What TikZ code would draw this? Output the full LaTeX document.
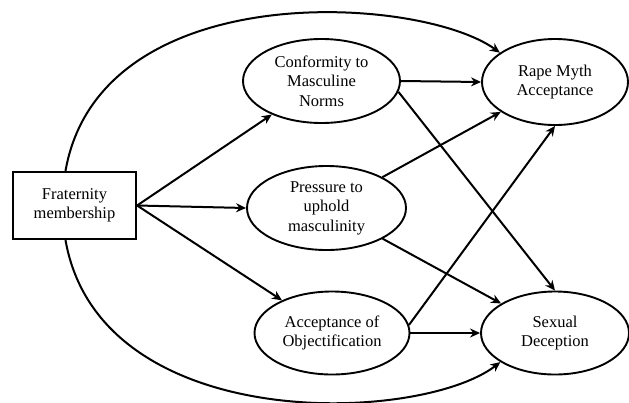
\documentclass[tikz,border=0pt]{standalone}
\usepackage{fontspec}
\setmainfont{Liberation Serif}
\usetikzlibrary{arrows.meta,shapes.geometric}
\tikzset{
	var/.style={draw, ellipse, line width=1.9pt, inner sep=0pt, align=center, font=\fontsize{16.5}{19.5}\selectfont},
	grp/.style={draw, rectangle, line width=2.2pt, inner sep=0pt, align=center, font=\fontsize{16.5}{19.5}\selectfont, minimum width=123pt, minimum height=67pt},
	path/.style={line width=2pt, -{Stealth[length=10pt,width=9pt]}}
}

\begin{document}
\begin{tikzpicture}[x=1pt, y=-1pt]
			%%%%% START %%%%%
			\useasboundingbox (0, 0) rectangle (629, 402);
			
			\node[grp] (frat) at (74.5, 205.5) {Fraternity\\membership};
			
			\node[var, minimum width=157pt, minimum height=84pt] (conf) at (321.5, 81) {Conformity to\\Masculine\\Norms};
			\node[var, minimum width=159pt, minimum height=84pt] (press) at (326.5, 208) {Pressure to\\uphold\\masculinity};
			\node[var, minimum width=155pt, minimum height=83pt] (obj) at (332, 333) {Acceptance of\\Objectification};
			
			\node[var, minimum width=146pt, minimum height=86pt] (rma) at (555, 82) {Rape Myth\\Acceptance};
			\node[var, minimum width=148pt, minimum height=83pt] (sd) at (555, 333) {Sexual\\Deception};
			
			\draw[path] (frat.east) -- (conf);
			\draw[path] (frat.east) -- (press.west);
			\draw[path] (frat.east) -- (obj);
			
			\draw[path] (conf.east) -- (rma.west);
			\draw[path] (conf.-8) -- (sd.north);
			\draw[path] (press) -- (rma);
			\draw[path] (press) -- (sd);
			\draw[path] (obj.6) -- (rma.south);
			\draw[path] (obj.east) -- (sd.west);
			
			% direct paths
			\draw[path] ([xshift=-9pt]frat.north) .. controls (100, -25) and (420, -5) .. (rma.152);
			\draw[path] ([xshift=-9pt]frat.south) .. controls (100, 436) and (420, 424) .. (sd.208);
			
			%%%%% END %%%%%
		\end{tikzpicture}
\end{document}
